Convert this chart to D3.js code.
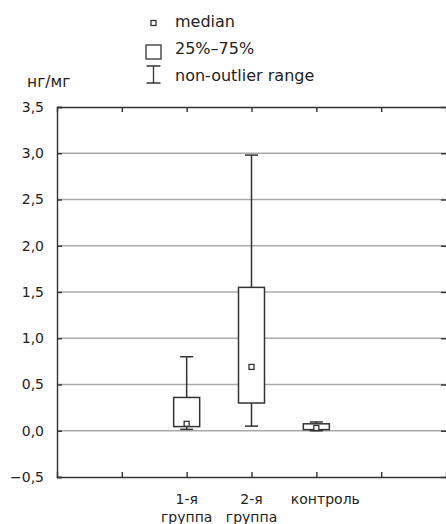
<!DOCTYPE html>
<html>
<head>
<meta charset="utf-8">
<script src="https://cdn.jsdelivr.net/npm/d3@7"></script>
<style>
  body { margin: 0; background: #fff; }
  svg { display: block; font-family: "DejaVu Sans", sans-serif; }
  text { fill: #222; }
</style>
</head>
<body>
<div id="chart"></div>
<script>
// data
const groups = [["1-я", "группа"], ["2-я", "группа"], ["контроль"]];
const groupPos = [2, 3, 4];
const whiskerLow = [0.015, 0.05, 0.0];
const boxLow = [0.045, 0.30, 0.012];
const medians = [0.075, 0.69, 0.03];
const boxHigh = [0.36, 1.55, 0.075];
const whiskerHigh = [0.80, 2.98, 0.095];
const yTicks = [-0.5, 0, 0.5, 1, 1.5, 2, 2.5, 3, 3.5];
const xTicks = [1, 2, 3, 4, 5];
const legendItems = ["median", "25%–75%", "non-outlier range"];

const width = 446, height = 524;
const plotL = 57, plotR = 446, plotT = 107, plotB = 477;
const boxW = 26, capW = 13, med = 5;
const ink = "#333", grid = "#aaa";

const svg = d3.select("#chart").append("svg")
  .attr("width", width)
  .attr("height", height);

const x = d3.scaleLinear().domain([0, 6]).range([plotL, plotR]);
const y = d3.scaleLinear().domain([-0.5, 3.5]).range([plotB, plotT]);
const fmt = d => (d < 0 ? "−" : "") + d3.format(".1f")(Math.abs(d)).replace(".", ",");

// gridlines
svg.append("g").selectAll("line")
  .data(yTicks.filter(d => d > -0.5 && d < 3.5))
  .join("line")
  .attr("x1", plotL).attr("x2", plotR)
  .attr("y1", d => y(d)).attr("y2", d => y(d))
  .attr("stroke", grid).attr("stroke-width", 1.5);

// axes
const axisL = d3.axisLeft(y).tickValues(yTicks).tickSize(-5).tickPadding(13).tickFormat(fmt);
const axisR = d3.axisRight(y).tickValues(yTicks).tickSize(-5).tickFormat("");
const axisT = d3.axisTop(x).tickValues(xTicks).tickSize(-5).tickFormat("");
const axisB = d3.axisBottom(x).tickValues(xTicks).tickSize(-5).tickFormat("");

svg.append("g").attr("class", "axis").attr("transform", `translate(${plotL},0)`).call(axisL);
svg.append("g").attr("class", "axis right").attr("transform", `translate(${plotR},0)`).call(axisR);
svg.append("g").attr("class", "axis").attr("transform", `translate(0,${plotT})`).call(axisT);
svg.append("g").attr("class", "axis").attr("transform", `translate(0,${plotB})`).call(axisB);

svg.select(".axis.right .domain").remove();
svg.selectAll(".axis .domain").attr("stroke", ink).attr("stroke-width", 1.4);
svg.selectAll(".axis .tick line").attr("stroke", ink).attr("stroke-width", 1.4);
svg.selectAll(".axis text").style("font-size", "14px").attr("fill", "#222")
  .attr("font-family", "DejaVu Sans");

// boxes
const g = svg.append("g").selectAll("g")
  .data(groups.map((name, i) => ({
    name, pos: groupPos[i], wl: whiskerLow[i], q1: boxLow[i],
    m: medians[i], q3: boxHigh[i], wh: whiskerHigh[i]
  })))
  .join("g")
  .attr("transform", d => `translate(${x(d.pos)},0)`);

g.append("line")
  .attr("y1", d => y(d.wl)).attr("y2", d => y(d.wh))
  .attr("stroke", ink).attr("stroke-width", 1.5);
g.selectAll("line.cap")
  .data(d => [d.wl, d.wh])
  .join("line")
  .attr("class", "cap")
  .attr("x1", -capW / 2).attr("x2", capW / 2)
  .attr("y1", d => y(d)).attr("y2", d => y(d))
  .attr("stroke", ink).attr("stroke-width", 1.5);
g.append("rect")
  .attr("x", -boxW / 2).attr("width", boxW)
  .attr("y", d => y(d.q3)).attr("height", d => y(d.q1) - y(d.q3))
  .attr("fill", "#fff").attr("stroke", ink).attr("stroke-width", 1.5);
g.append("rect")
  .attr("x", -med / 2).attr("width", med)
  .attr("y", d => y(d.m) - med / 2).attr("height", med)
  .attr("fill", "#fff").attr("stroke", ink).attr("stroke-width", 1.3);

// category labels (single-line "контроль" sits a bit right of its tick)
g.append("text")
  .attr("text-anchor", "middle")
  .attr("transform", d => `translate(${d.name.length === 1 ? 9 : 0},0)`)
  .style("font-size", "14px")
  .selectAll("tspan")
  .data(d => d.name)
  .join("tspan")
  .attr("x", 0)
  .attr("y", (d, i) => 504 + i * 18)
  .text(d => d);

// unit label
svg.append("text")
  .attr("x", 27).attr("y", 87)
  .style("font-size", "15.5px")
  .text("нг/мг");

// legend
const lg = svg.append("g").attr("transform", "translate(153.5,0)");
lg.append("rect")
  .attr("x", -2.5).attr("y", 20.5).attr("width", 5).attr("height", 5)
  .attr("fill", "#fff").attr("stroke", ink).attr("stroke-width", 1.3);
lg.append("rect")
  .attr("x", -7.5).attr("y", 45).attr("width", 15).attr("height", 14)
  .attr("fill", "#fff").attr("stroke", ink).attr("stroke-width", 1.3);
lg.append("path")
  .attr("d", "M-7,66H7M0,66V83M-7,83H7")
  .attr("fill", "none").attr("stroke", ink).attr("stroke-width", 1.3);
lg.selectAll("text.item")
  .data(legendItems)
  .join("text")
  .attr("class", "item")
  .attr("x", 21.5)
  .attr("y", (d, i) => 27 + i * 27)
  .style("font-size", "16px")
  .text(d => d);
</script>
</body>
</html>
